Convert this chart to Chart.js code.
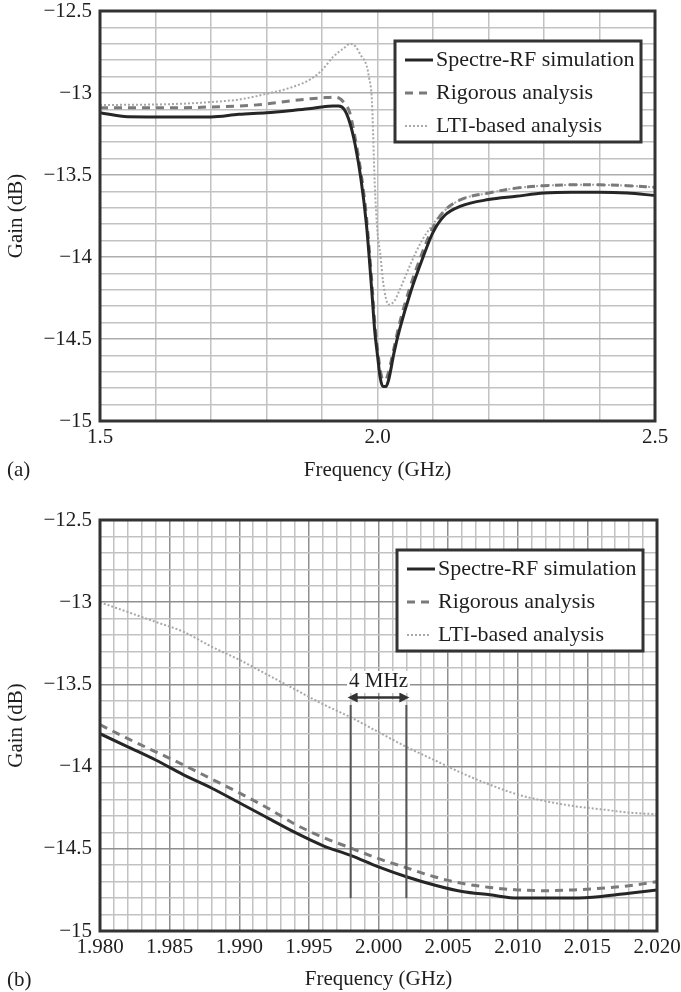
<!DOCTYPE html>
<html><head><meta charset="utf-8">
<script src="https://cdn.jsdelivr.net/npm/chart.js@4.4.0/dist/chart.umd.min.js"></script>
<style>
html,body{margin:0;padding:0;background:#fff;overflow:hidden;}
#wrap{position:relative;width:681px;height:992px;}
canvas{position:absolute;left:0;}
#c1{top:0;} #c2{top:490px;}
</style></head><body>
<div id="wrap"><canvas id="c1" width="681" height="490"></canvas><canvas id="c2" width="681" height="502"></canvas></div>
<script>
// ---------- data: panel (a) ----------
const freqA = [1.50,1.55,1.60,1.65,1.70,1.75,1.80,1.85,1.88,1.90,1.92,1.93,1.94,1.95,1.96,1.97,1.98,1.985,1.99,1.995,2.00,2.005,2.01,2.015,2.02,2.03,2.04,2.06,2.08,2.10,2.12,2.15,2.20,2.25,2.30,2.35,2.40,2.45,2.50];
const spectreA = [-13.12,-13.145,-13.146,-13.146,-13.146,-13.13,-13.12,-13.105,-13.095,-13.085,-13.08,-13.08,-13.10,-13.18,-13.32,-13.52,-13.80,-14.00,-14.22,-14.45,-14.60,-14.74,-14.79,-14.79,-14.75,-14.58,-14.44,-14.21,-14.02,-13.85,-13.75,-13.69,-13.65,-13.63,-13.61,-13.605,-13.605,-13.61,-13.625];
const rigorousA = [-13.09,-13.09,-13.09,-13.09,-13.085,-13.08,-13.067,-13.045,-13.035,-13.03,-13.025,-13.03,-13.06,-13.12,-13.28,-13.48,-13.75,-13.95,-14.16,-14.40,-14.56,-14.69,-14.75,-14.745,-14.70,-14.55,-14.40,-14.17,-13.98,-13.82,-13.72,-13.65,-13.61,-13.58,-13.565,-13.56,-13.56,-13.565,-13.575];
const ltiA = [-13.073,-13.072,-13.07,-13.065,-13.055,-13.04,-13.005,-12.96,-12.915,-12.86,-12.78,-12.75,-12.725,-12.70,-12.715,-12.77,-12.83,-12.91,-13.05,-13.55,-13.85,-13.98,-14.15,-14.25,-14.29,-14.27,-14.20,-14.04,-13.90,-13.80,-13.72,-13.65,-13.61,-13.58,-13.565,-13.56,-13.56,-13.565,-13.575];

// ---------- data: panel (b) ----------
const freqB = [1.980,1.982,1.984,1.986,1.988,1.990,1.992,1.994,1.996,1.998,2.000,2.002,2.004,2.006,2.008,2.010,2.012,2.014,2.016,2.018,2.020];
const spectreB = [-13.80,-13.88,-13.96,-14.05,-14.13,-14.22,-14.31,-14.40,-14.48,-14.54,-14.61,-14.67,-14.72,-14.76,-14.78,-14.80,-14.80,-14.80,-14.79,-14.77,-14.75];
const rigorousB = [-13.745,-13.83,-13.91,-13.99,-14.075,-14.16,-14.25,-14.35,-14.43,-14.495,-14.56,-14.615,-14.67,-14.71,-14.735,-14.75,-14.755,-14.75,-14.74,-14.725,-14.70];
const ltiB = [-13.00,-13.06,-13.12,-13.18,-13.27,-13.35,-13.44,-13.53,-13.62,-13.70,-13.79,-13.88,-13.96,-14.04,-14.11,-14.17,-14.21,-14.24,-14.26,-14.28,-14.29];

// ---------- labels / ticks ----------
const seriesNames = ['Spectre-RF simulation','Rigorous analysis','LTI-based analysis'];
const yTickLabels = [-12.5,-13,-13.5,-14,-14.5,-15];
const xTickLabelsA = [1.5,2.0,2.5];
const xTickLabelsB = [1.980,1.985,1.990,1.995,2.000,2.005,2.010,2.015,2.020];
const markerFreqs = [1.998, 2.002];
const markerGain = [-13.625, -14.80];
const arrowGain = -13.58;
const labelGain = -13.485;
const markerText = '4 MHz';

const FONT = '"Liberation Serif", "Times New Roman", serif';
Chart.defaults.font.family = FONT;
Chart.defaults.font.size = 21;
Chart.defaults.color = '#1e1e1e';

const inList = (v, list) => list.some(t => Math.abs(t - v) < 1e-6);
const fmtGain = v => (v < 0 ? '\u2212' : '') + String(Math.abs(Math.round(v*10)/10));

const styles = [
  {borderColor:'#262626', borderWidth:3, borderDash:[]},
  {borderColor:'#7a7a7a', borderWidth:3, borderDash:[8,6]},
  {borderColor:'#a8a8a8', borderWidth:2, borderDash:[2,2]}
];

const framePlugin = {
  id:'frame',
  afterDatasetsDraw(chart){
    const {ctx, chartArea:a} = chart;
    ctx.save();
    ctx.strokeStyle = '#333'; ctx.lineWidth = 3;
    ctx.strokeRect(a.left, a.top, a.right-a.left, a.bottom-a.top);
    ctx.restore();
  }
};

const markerPlugin = {
  id:'marker',
  afterDatasetsDraw(chart, args, o){
    if (!o || !o.show) return;
    const xs = chart.scales.x, ys = chart.scales.y, ctx = chart.ctx;
    const x1 = xs.getPixelForValue(markerFreqs[0]), x2 = xs.getPixelForValue(markerFreqs[1]);
    const yT = ys.getPixelForValue(markerGain[0]), yB = ys.getPixelForValue(markerGain[1]);
    const yA = ys.getPixelForValue(arrowGain), yL = ys.getPixelForValue(labelGain);
    ctx.save();
    ctx.strokeStyle = '#555'; ctx.lineWidth = 2;
    [x1,x2].forEach(x => { ctx.beginPath(); ctx.moveTo(x, yT); ctx.lineTo(x, yB); ctx.stroke(); });
    ctx.strokeStyle = '#333'; ctx.fillStyle = '#333'; ctx.lineWidth = 2.5;
    ctx.beginPath(); ctx.moveTo(x1+4, yA); ctx.lineTo(x2-4, yA); ctx.stroke();
    ctx.beginPath(); ctx.moveTo(x1-3, yA); ctx.lineTo(x1+7, yA-5); ctx.lineTo(x1+7, yA+5); ctx.closePath(); ctx.fill();
    ctx.beginPath(); ctx.moveTo(x2+3, yA); ctx.lineTo(x2-7, yA-5); ctx.lineTo(x2-7, yA+5); ctx.closePath(); ctx.fill();
    ctx.font = '21px ' + FONT;
    const xm = (x1+x2)/2, w = ctx.measureText(markerText).width;
    ctx.fillStyle = '#fff'; ctx.fillRect(xm - w/2 - 2, yL - 11, w + 4, 22);
    ctx.fillStyle = '#1e1e1e'; ctx.textAlign = 'center'; ctx.textBaseline = 'middle';
    ctx.fillText(markerText, xm, yL);
    ctx.restore();
  }
};

const legendPlugin = {
  id:'boxLegend',
  afterDraw(chart, args, o){
    const {ctx, chartArea:a} = chart;
    const bw = 246, bh = 101;
    const x0 = a.right - 14 - bw, y0 = a.top + 30;
    ctx.save();
    ctx.fillStyle = '#fff'; ctx.fillRect(x0, y0, bw, bh);
    ctx.lineWidth = 3; ctx.strokeStyle = '#333'; ctx.strokeRect(x0, y0, bw, bh);
    const sampleEnd = [38, 35, 33];
    chart.data.datasets.forEach((ds, i) => {
      const yy = y0 + 19 + i*33;
      ctx.beginPath();
      ctx.setLineDash(ds.borderDash || []);
      ctx.lineWidth = ds.borderWidth; ctx.strokeStyle = ds.borderColor;
      ctx.moveTo(x0 + 10, yy); ctx.lineTo(x0 + sampleEnd[i], yy); ctx.stroke();
      ctx.setLineDash([]);
      ctx.fillStyle = '#1e1e1e'; ctx.font = '22px ' + FONT;
      ctx.textBaseline = 'middle'; ctx.textAlign = 'left';
      ctx.fillText(ds.label, x0 + 41, yy);
    });
    ctx.font = '21px ' + FONT; ctx.fillStyle = '#1e1e1e';
    ctx.textAlign = 'left'; ctx.textBaseline = 'middle';
    ctx.fillText(o.panel, 7, a.bottom + 49);
    ctx.restore();
  }
};

function makeChart(canvas, freq, s1, s2, s3, cfg){
  const series = [s1, s2, s3];
  const datasets = series.map((s, i) => Object.assign({
    label: seriesNames[i],
    data: freq.map((f, k) => ({x: f, y: s[k]})),
    pointRadius: 0, fill: false, cubicInterpolationMode: 'monotone'
  }, styles[i]));
  return new Chart(canvas, {
    type: 'line',
    data: {datasets},
    plugins: [markerPlugin, framePlugin, legendPlugin],
    options: {
      responsive: false, animation: false, devicePixelRatio: 1,
      layout: {padding: {top: cfg.padTop, right: cfg.padRight, left: 0, bottom: 0}},
      plugins: {
        legend: {display: false}, tooltip: {enabled: false},
        marker: {show: cfg.marker}, boxLegend: {panel: cfg.panel}
      },
      scales: {
        x: {
          type: 'linear', min: cfg.xmin, max: cfg.xmax,
          border: {display: false},
          grid: {drawTicks: false, lineWidth: 1.5,
                 color: c => (c.tick && cfg.xMajor(c.tick.value)) ? cfg.xMajorColor : '#c2c2c2'},
          ticks: {stepSize: cfg.xstep, autoSkip: false, maxRotation: 0, padding: 4,
                  callback: v => inList(v, cfg.xLabels) ? v.toFixed(cfg.xDec) : ''},
          title: {display: true, text: 'Frequency (GHz)', padding: {top: 0, bottom: cfg.titlePadB}},
          afterFit: s => { s.height = cfg.xHeight; s.paddingLeft = 0; s.paddingRight = 0; }
        },
        y: {
          type: 'linear', min: -15, max: -12.5,
          border: {display: false},
          grid: {drawTicks: false, lineWidth: 1.5,
                 color: c => (c.tick && inList(c.tick.value, yTickLabels)) ? cfg.yMajorColor : '#c2c2c2'},
          ticks: {stepSize: 0.1, autoSkip: false, padding: 8,
                  callback: v => inList(v, yTickLabels) ? fmtGain(v) : ''},
          title: {display: true, text: 'Gain (dB)', padding: {top: 4, bottom: 0}},
          afterFit: s => { s.width = 100; s.paddingTop = 0; s.paddingBottom = 0; }
        }
      }
    }
  });
}

makeChart(document.getElementById('c1'), freqA, spectreA, rigorousA, ltiA, {
  padTop: 11, padRight: 26, xmin: 1.5, xmax: 2.5, xstep: 0.1, xLabels: xTickLabelsA, xDec: 1,
  xMajor: v => false, xMajorColor: '#bababa', yMajorColor: '#adadad',
  xHeight: 69, titlePadB: 7, marker: false, panel: '(a)'
});
makeChart(document.getElementById('c2'), freqB, spectreB, rigorousB, ltiB, {
  padTop: 30, padRight: 24, xmin: 1.98, xmax: 2.02, xstep: 0.001, xLabels: xTickLabelsB, xDec: 3,
  xMajor: v => inList(v, xTickLabelsB), xMajorColor: '#8f8f8f', yMajorColor: '#8f8f8f',
  xHeight: 61, titlePadB: 0, marker: true, panel: '(b)'
});
</script>
</body></html>
